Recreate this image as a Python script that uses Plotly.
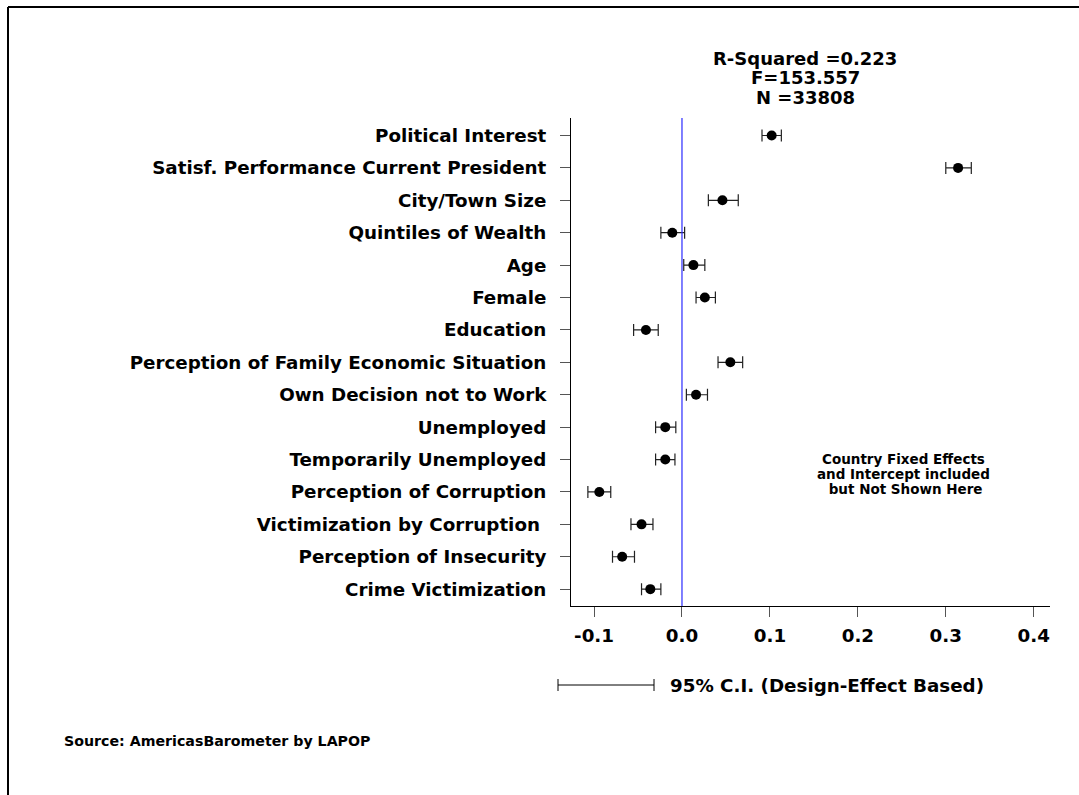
import plotly.graph_objects as go

# Regression coefficients with 95% confidence intervals
labels = [
    "Political Interest",
    "Satisf. Performance Current President",
    "City/Town Size",
    "Quintiles of Wealth",
    "Age",
    "Female",
    "Education",
    "Perception of Family Economic Situation",
    "Own Decision not to Work",
    "Unemployed",
    "Temporarily Unemployed",
    "Perception of Corruption",
    "Victimization by Corruption ",
    "Perception of Insecurity",
    "Crime Victimization",
]
estimates = [0.102, 0.314, 0.046, -0.011, 0.013, 0.026, -0.041, 0.055, 0.016,
             -0.019, -0.019, -0.094, -0.046, -0.068, -0.036]
ci_low = [0.091, 0.300, 0.030, -0.024, 0.002, 0.016, -0.055, 0.041, 0.005,
          -0.030, -0.030, -0.107, -0.058, -0.079, -0.046]
ci_high = [0.113, 0.329, 0.064, 0.003, 0.026, 0.038, -0.027, 0.069, 0.029,
           -0.007, -0.008, -0.081, -0.033, -0.054, -0.024]
x_ticks = [-0.1, 0.0, 0.1, 0.2, 0.3, 0.4]
x_tick_text = ["-0.1", "0.0", "0.1", "0.2", "0.3", "0.4"]

stats_lines = ["R-Squared =0.223", "F=153.557", "N =33808"]
note_lines = ["Country Fixed Effects", "and Intercept included", " but Not Shown Here"]
ci_legend_text = "95% C.I. (Design-Effect Based)"
source_text = "Source: AmericasBarometer by LAPOP"

W, H = 1079, 795
ML, MR, MT, MB = 571, 29, 118, 189
FONT = "DejaVu Sans, Verdana, sans-serif"


def px_x(x):
    return (x - ML) / (W - ML - MR)


def px_y(y):
    return (H - MB - y) / (H - MT - MB)


positions = list(range(len(labels)))
err_plus = [h - e for h, e in zip(ci_high, estimates)]
err_minus = [e - l for e, l in zip(estimates, ci_low)]

fig = go.Figure()
fig.add_trace(go.Scatter(
    x=estimates,
    y=positions,
    mode="markers",
    marker=dict(color="black", size=10),
    error_x=dict(type="data", symmetric=False, array=err_plus,
                 arrayminus=err_minus, color="#222222", thickness=1.2, width=6),
    showlegend=False,
    hoverinfo="skip",
))

bold = dict(family=FONT, color="black", weight="bold")


def text_note(text, x, y, size, anchor="center"):
    return dict(text=text, xref="paper", yref="paper", x=px_x(x), y=px_y(y),
                xanchor=anchor, yanchor="middle", showarrow=False,
                font=dict(size=size, **bold))


annotations = []
for i, line in enumerate(stats_lines):
    annotations.append(text_note(line, 805, 59 + 19 * i, 18))
for i, line in enumerate(note_lines):
    annotations.append(text_note(line, 903, 459 + 15 * i, 13.5))
annotations.append(text_note(ci_legend_text, 668, 685, 18.3, "left"))
annotations.append(text_note(source_text, 62, 741, 14.2, "left"))

fig.update_layout(
    width=W, height=H,
    margin=dict(l=ML, r=MR, t=MT, b=MB, pad=0),
    paper_bgcolor="white", plot_bgcolor="white",
    xaxis=dict(
        range=[-0.1262, 0.4185], tickvals=x_ticks, ticktext=x_tick_text,
        showgrid=False, zeroline=False, showline=True, linecolor="black",
        linewidth=1, ticks="outside", ticklen=10, tickcolor="#555555",
        tickfont=dict(size=18.3, **bold), ticklabelstandoff=3,
    ),
    yaxis=dict(
        range=[len(labels) - 1 + 0.52, -0.54], tickvals=positions,
        ticktext=labels, showgrid=False, zeroline=False, showline=True,
        linecolor="black", linewidth=1, ticks="outside", ticklen=10,
        tickcolor="#555555", tickfont=dict(size=18.3, **bold),
        ticklabelstandoff=10,
    ),
    shapes=[
        # reference line at zero
        dict(type="line", xref="x", yref="paper", x0=0, x1=0, y0=0, y1=1,
             line=dict(color="#2a2aff", width=1.2)),
        # page border (top and left)
        dict(type="line", xref="paper", yref="paper", x0=px_x(8), x1=px_x(W),
             y0=px_y(7), y1=px_y(7), line=dict(color="black", width=2)),
        dict(type="line", xref="paper", yref="paper", x0=px_x(8), x1=px_x(8),
             y0=px_y(7), y1=px_y(H), line=dict(color="black", width=2)),
        # confidence-interval key
        dict(type="line", xref="paper", yref="paper", x0=px_x(558), x1=px_x(654),
             y0=px_y(685), y1=px_y(685), line=dict(color="black", width=1)),
        dict(type="line", xref="paper", yref="paper", x0=px_x(558), x1=px_x(558),
             y0=px_y(679), y1=px_y(691), line=dict(color="black", width=1)),
        dict(type="line", xref="paper", yref="paper", x0=px_x(654), x1=px_x(654),
             y0=px_y(679), y1=px_y(691), line=dict(color="black", width=1)),
    ],
    annotations=annotations,
)

fig.write_html("out.html")
